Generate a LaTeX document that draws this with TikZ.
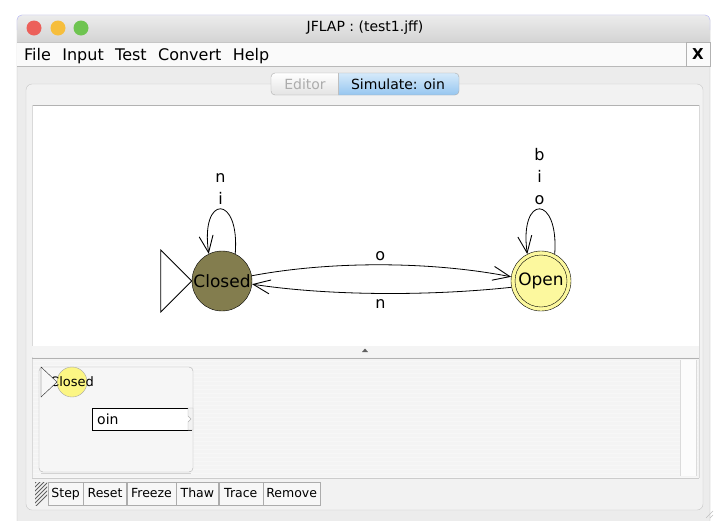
\documentclass[tikz,border=0pt]{standalone}
\usepackage{fontspec}
\setmainfont{DejaVu Sans}
\usetikzlibrary{arrows.meta,positioning}
\definecolor{winbg}{RGB}{236,236,236}
\definecolor{titletop}{RGB}{236,236,236}
\definecolor{titlebot}{RGB}{206,206,206}
\definecolor{closedfill}{RGB}{131,125,78}
\definecolor{openfill}{RGB}{252,248,158}
\definecolor{runfill}{RGB}{252,246,132}
\definecolor{simtop}{RGB}{214,234,250}
\definecolor{simbot}{RGB}{150,198,240}
\definecolor{lightred}{RGB}{236,96,90}
\definecolor{lightyel}{RGB}{246,190,60}
\definecolor{lightgrn}{RGB}{110,196,80}

\begin{document}
\begin{tikzpicture}[x=1pt,y=-1pt,
	state/.style={circle,draw,thin,minimum size=60pt,inner sep=0pt,font=\fontsize{17}{20}\selectfont},
	trans/.style={line width=0.8pt,-{Straight Barb[length=17pt,width=14pt,line width=0.9pt]}},
	lbl/.style={font=\fontsize{16}{22}\selectfont,inner sep=1pt,align=center},
	menu/.style={inner sep=0pt,anchor=base west,font=\fontsize{16}{18}\selectfont},
	btn/.style={draw=gray!65,fill=gray!6,minimum height=23pt,inner sep=0pt,text height=9.5pt,text depth=2.5pt,font=\fontsize{12.5}{14}\selectfont},
	tabtext/.style={inner sep=0pt,font=\fontsize{14}{16}\selectfont}]
	\useasboundingbox (0,0) rectangle (719,520);
	\fill[white] (0,0) rectangle (719,520);

	\draw[gray!55,fill=winbg,rounded corners=5pt] (17,540) rectangle (710,15);
	\shade[top color=titletop,bottom color=titlebot,rounded corners=5pt] (17,15) rectangle (710,48);
	\draw[blue!25,rounded corners=5pt] (17,30) -- (17,15) -- (710,15) -- (710,30);
	\fill[lightred] (34,28) circle (7.5);
	\fill[lightyel] (58,28) circle (7.5);
	\fill[lightgrn] (81,28) circle (7.5);
	\node[inner sep=0pt,font=\fontsize{14}{16}\selectfont] (title) at (365,28) {JFLAP : (test1.jff)};

	\fill[gray!4] (17,42) rectangle (710,66);
	\draw[gray!45] (17,42) -- (710,42);
	\draw[gray!55] (17,66) -- (710,66);
	\node[menu] (mfile) at (24,60) {File};
	\node[menu,right=11pt of mfile.base east,anchor=base west] (minput) {Input};
	\node[menu,right=11pt of minput.base east,anchor=base west] (mtest) {Test};
	\node[menu,right=11pt of mtest.base east,anchor=base west] (mconvert) {Convert};
	\node[menu,right=11pt of mconvert.base east,anchor=base west] (mhelp) {Help};
	\node[draw=gray!60,fill=gray!3,minimum size=24pt,inner sep=0pt,font=\bfseries\fontsize{15}{16}\selectfont] (closebtn) at (698,54) {X};

	\draw[gray!45,fill=gray!10,rounded corners=6pt] (26,84) rectangle (703,510);
	\begin{scope}
		\clip[rounded corners=4pt] (271,73) rectangle (459,95);
		\shade[top color=white,bottom color=gray!22] (271,73) rectangle (338,95);
		\shade[top color=simtop,bottom color=simbot] (338,73) rectangle (459,95);
	\end{scope}
	\draw[gray!65,rounded corners=4pt] (271,73) rectangle (459,95);
	\draw[gray!50] (338,73) -- (338,95);
	\node[tabtext,text=gray!65] (editortab) at (305,84) {Editor};
	\node[tabtext] (simtab) at (398,84) {Simulate: oin};

	\fill[white] (32,105) rectangle (699,346);
	\draw[gray!60] (32,105) -- (699,105);
	\draw[gray!30] (32,105) -- (32,478);
	\draw[gray!30] (699,105) -- (699,478);

	\node[state,fill=closedfill] (closed) at (222,281) {Closed};
	\node[state,fill=openfill] (open) at (541,281) {};
	\node[circle,draw,thin,minimum size=52pt,inner sep=0pt,font=\fontsize{17}{20}\selectfont] (openring) at (open) {Open};
	\draw[line width=0.8pt,fill=white] (closed.west) -- ++(-31,-31) -- ++(0,62) -- cycle;

	\draw[trans] (closed.64) .. controls (240,194) and (200,194) .. node[lbl,above=3pt] {n\\i} (closed.116);
	\draw[trans] (open.63) .. controls (559,194) and (519,194) .. node[lbl,above=3pt] {b\\i\\o} (open.117);
	\draw[trans] (closed.10) .. controls (330,261) and (430,261) .. node[lbl,above=3pt] {o} (open.172);
	\draw[trans] (open.192) .. controls (430,296) and (330,296) .. node[lbl,below=5pt] {n} (closed.354);

	\fill[gray!9] (32,346) rectangle (699,357);
	\fill[gray!75!black] (362,352) -- (365,348.5) -- (368,352) -- cycle;
	\draw[gray!60,line width=1pt] (32,358) -- (699,358);
	\fill[gray!9] (33,359) rectangle (698,478);
	\foreach \y in {361,365,...,477}{
		\draw[gray!6] (33,\y) -- (698,\y);
	}
	\fill[gray!2] (680,360) rectangle (696,476);
	\draw[gray!28] (680,360) -- (680,476);
	\draw[gray!28] (696,360) -- (696,476);
	\draw[gray!40] (32,478) -- (699,478);

	\draw[gray!60,fill=gray!7,rounded corners=4pt] (39,367) rectangle (193,472);
	\draw[gray!35] (41,473) -- (191,473);
	\fill[runfill,draw=gray!70] (72,382) circle (15);
	\node[inner sep=0pt,anchor=west,font=\fontsize{13}{15}\selectfont] (runstate) at (50,382) {Closed};
	\draw[gray!30!black,fill=gray!6] (41,367) -- (57,382) -- (41,397) -- cycle;
	\node[draw,fill=white,minimum width=99pt,minimum height=22pt,inner sep=0pt] (inbox) at (141.5,419) {};
	\node[inner sep=0pt,anchor=west,font=\fontsize{14}{16}\selectfont] (intext) at (97,419) {oin};
	\draw[gray!60,fill=gray!10] (188,408) -- (188,416) -- (191,419) -- (188,422) -- (188,430) -- (193,430) -- (193,408) -- cycle;

	\begin{scope}
		\clip (35,482) rectangle (47,505);
		\foreach \k in {0,...,9}{
			\draw[gray!75!black,line width=1pt] (30,512-\k*4) -- ++(20,-20);
		}
	\end{scope}
	\node[btn,minimum width=35pt,anchor=west] (step) at (48,493.5) {Step};
	\node[btn,minimum width=43pt,right=0pt of step] (reset) {Reset};
	\node[btn,minimum width=49pt,right=0pt of reset] (freeze) {Freeze};
	\node[btn,minimum width=42pt,right=0pt of freeze] (thaw) {Thaw};
	\node[btn,minimum width=44pt,right=0pt of thaw] (trace) {Trace};
	\node[btn,minimum width=57pt,right=0pt of trace] (remove) {Remove};

	\draw[gray!50] (706,518) -- (713,511);
	\draw[gray!50] (710,518) -- (713,515);
\end{tikzpicture}
\end{document}
